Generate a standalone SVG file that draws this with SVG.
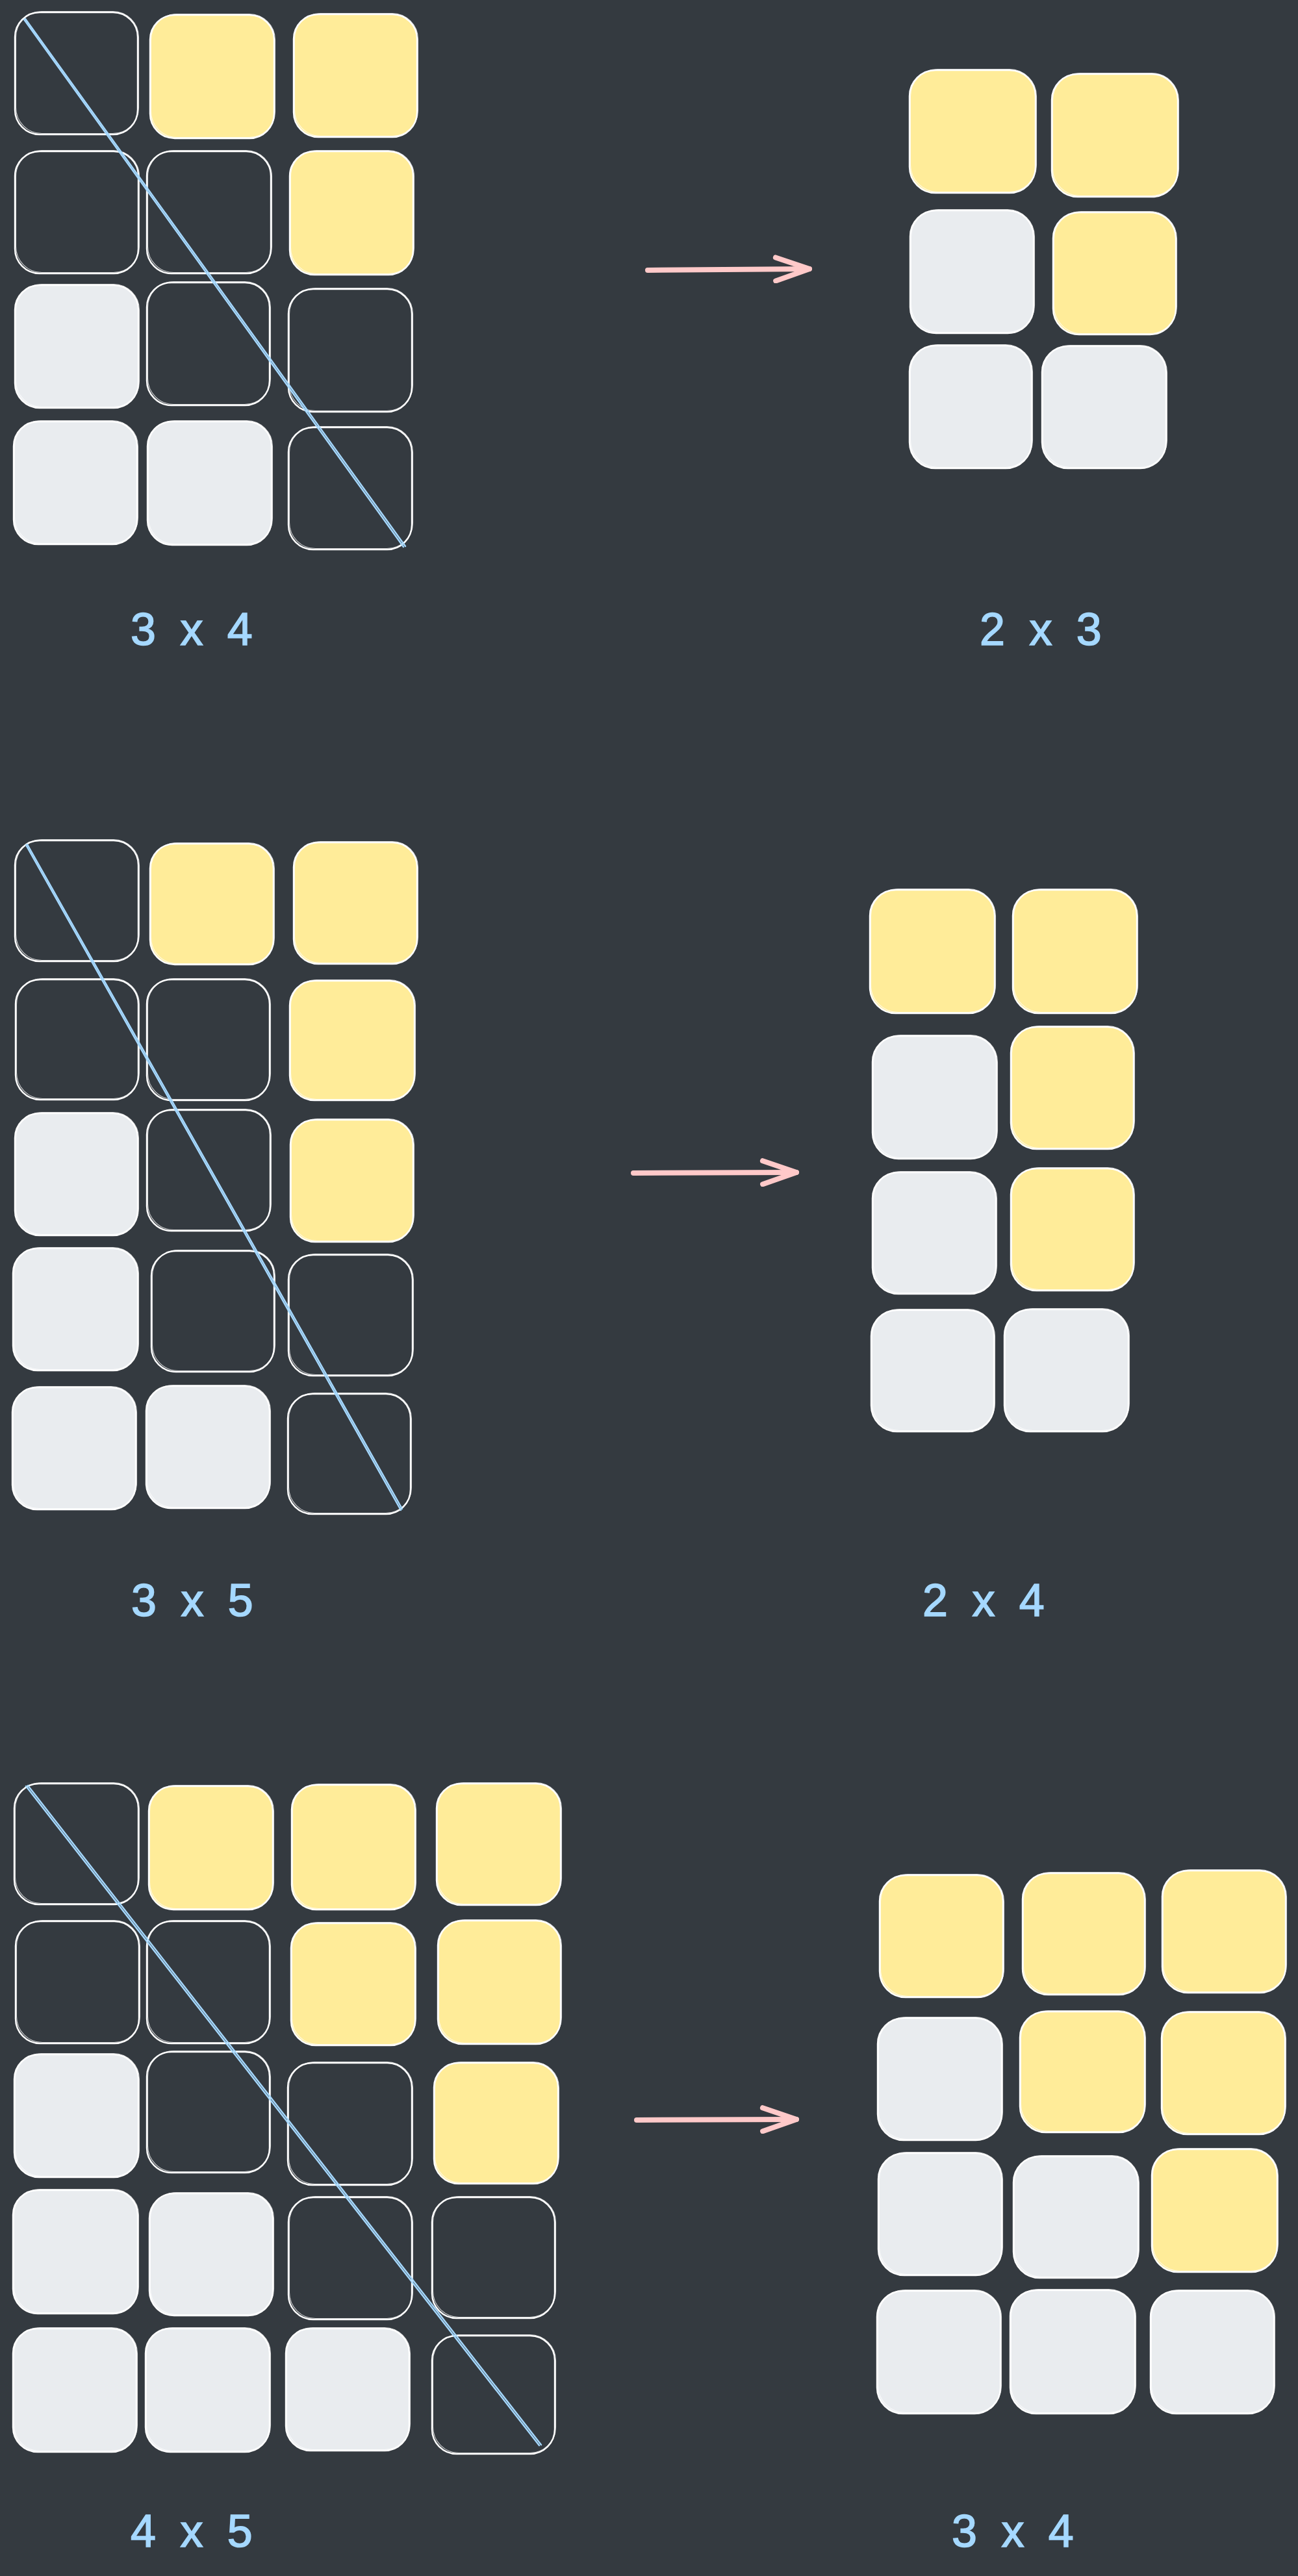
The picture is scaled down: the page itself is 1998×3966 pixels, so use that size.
<svg xmlns="http://www.w3.org/2000/svg" width="1998" height="3966" viewBox="0 0 1998 3966">
<style>
.c{stroke:#ffffff;stroke-width:2.4;}
.e{fill:none;}
.y{fill:#ffec99;}
.g{fill:#e9ecef;}
.o{fill:none;stroke:#ffffff;stroke-width:1.1;opacity:.75;transform:translate(1.5px,-1.5px);}
.d{stroke:#a5d8ff;stroke-width:2.4;fill:none;stroke-linecap:round;}
.a{stroke:#ffc9c9;stroke-width:8;fill:none;stroke-linecap:round;stroke-linejoin:round;}
.t{font-family:"Liberation Sans",Arial,sans-serif;font-size:70px;fill:#a5d8ff;stroke:#a5d8ff;stroke-width:1.6px;letter-spacing:9px;}
</style>
<defs>
<marker id="ah" viewBox="0 0 62 44" refX="57" refY="22" markerWidth="62" markerHeight="44" markerUnits="userSpaceOnUse" orient="auto">
<path d="M5,4 L57,22 L5,40" fill="none" stroke="#ffc9c9" stroke-width="8" stroke-linecap="round" stroke-linejoin="round"/>
</marker>
</defs>
<rect x="0" y="0" width="1998" height="3966" fill="#343a40"/>

<!-- Section 1 left grid 3x4 -->
<g id="s1-left">
<g id="s1l-r1c1"><rect class="c e" x="23" y="19" width="189" height="188" rx="38"/><rect class="o" x="23" y="19" width="189" height="188" rx="40"/></g>
<g id="s1l-r1c2"><rect class="c y" x="231" y="23" width="191" height="190" rx="38"/><rect class="o" x="231" y="23" width="191" height="190" rx="40"/></g>
<g id="s1l-r1c3"><rect class="c y" x="452" y="22" width="190" height="189" rx="38"/><rect class="o" x="452" y="22" width="190" height="189" rx="40"/></g>
<g id="s1l-r2c1"><rect class="c e" x="23" y="233" width="190" height="188" rx="38"/><rect class="o" x="23" y="233" width="190" height="188" rx="40"/></g>
<g id="s1l-r2c2"><rect class="c e" x="226" y="233" width="191" height="188" rx="38"/><rect class="o" x="226" y="233" width="191" height="188" rx="40"/></g>
<g id="s1l-r2c3"><rect class="c y" x="446" y="233" width="190" height="190" rx="38"/><rect class="o" x="446" y="233" width="190" height="190" rx="40"/></g>
<g id="s1l-r3c1"><rect class="c g" x="23" y="439" width="190" height="189" rx="38"/><rect class="o" x="23" y="439" width="190" height="189" rx="40"/></g>
<g id="s1l-r3c2"><rect class="c e" x="226" y="435" width="189" height="189" rx="38"/><rect class="o" x="226" y="435" width="189" height="189" rx="40"/></g>
<g id="s1l-r3c3"><rect class="c e" x="444" y="445" width="190" height="189" rx="38"/><rect class="o" x="444" y="445" width="190" height="189" rx="40"/></g>
<g id="s1l-r4c1"><rect class="c g" x="21" y="649" width="190" height="189" rx="38"/><rect class="o" x="21" y="649" width="190" height="189" rx="40"/></g>
<g id="s1l-r4c2"><rect class="c g" x="227" y="649" width="191" height="190" rx="38"/><rect class="o" x="227" y="649" width="191" height="190" rx="40"/></g>
<g id="s1l-r4c3"><rect class="c e" x="444" y="658" width="190" height="188" rx="38"/><rect class="o" x="444" y="658" width="190" height="188" rx="40"/></g>
</g>

<!-- Section 1 right grid 2x3 -->
<g id="s1-right">
<g id="s1r-r1c1"><rect class="c y" x="1400" y="108" width="194" height="189" rx="40"/><rect class="o" x="1400" y="108" width="194" height="189" rx="42"/></g>
<g id="s1r-r1c2"><rect class="c y" x="1619" y="114" width="194" height="189" rx="40"/><rect class="o" x="1619" y="114" width="194" height="189" rx="42"/></g>
<g id="s1r-r2c1"><rect class="c g" x="1401" y="324" width="190" height="189" rx="40"/><rect class="o" x="1401" y="324" width="190" height="189" rx="42"/></g>
<g id="s1r-r2c2"><rect class="c y" x="1621" y="327" width="189" height="188" rx="40"/><rect class="o" x="1621" y="327" width="189" height="188" rx="42"/></g>
<g id="s1r-r3c1"><rect class="c g" x="1400" y="532" width="188" height="189" rx="40"/><rect class="o" x="1400" y="532" width="188" height="189" rx="42"/></g>
<g id="s1r-r3c2"><rect class="c g" x="1604" y="533" width="191" height="188" rx="40"/><rect class="o" x="1604" y="533" width="191" height="188" rx="42"/></g>
</g>

<!-- Section 2 left grid 3x5 -->
<g id="s2-left">
<g id="s2l-r1c1"><rect class="c e" x="23" y="1294" width="190" height="186" rx="38"/><rect class="o" x="23" y="1294" width="190" height="186" rx="40"/></g>
<g id="s2l-r1c2"><rect class="c y" x="231" y="1299" width="190" height="186" rx="38"/><rect class="o" x="231" y="1299" width="190" height="186" rx="40"/></g>
<g id="s2l-r1c3"><rect class="c y" x="452" y="1297" width="190" height="187" rx="38"/><rect class="o" x="452" y="1297" width="190" height="187" rx="40"/></g>
<g id="s2l-r2c1"><rect class="c e" x="24" y="1508" width="189" height="185" rx="38"/><rect class="o" x="24" y="1508" width="189" height="185" rx="40"/></g>
<g id="s2l-r2c2"><rect class="c e" x="226" y="1508" width="189" height="186" rx="38"/><rect class="o" x="226" y="1508" width="189" height="186" rx="40"/></g>
<g id="s2l-r2c3"><rect class="c y" x="446" y="1510" width="192" height="184" rx="38"/><rect class="o" x="446" y="1510" width="192" height="184" rx="40"/></g>
<g id="s2l-r3c1"><rect class="c g" x="23" y="1714" width="189" height="188" rx="38"/><rect class="o" x="23" y="1714" width="189" height="188" rx="40"/></g>
<g id="s2l-r3c2"><rect class="c e" x="226" y="1709" width="190" height="186" rx="38"/><rect class="o" x="226" y="1709" width="190" height="186" rx="40"/></g>
<g id="s2l-r3c3"><rect class="c y" x="447" y="1724" width="189" height="188" rx="38"/><rect class="o" x="447" y="1724" width="189" height="188" rx="40"/></g>
<g id="s2l-r4c1"><rect class="c g" x="20" y="1922" width="192" height="188" rx="38"/><rect class="o" x="20" y="1922" width="192" height="188" rx="40"/></g>
<g id="s2l-r4c2"><rect class="c e" x="233" y="1926" width="189" height="186" rx="38"/><rect class="o" x="233" y="1926" width="189" height="186" rx="40"/></g>
<g id="s2l-r4c3"><rect class="c e" x="444" y="1932" width="191" height="186" rx="38"/><rect class="o" x="444" y="1932" width="191" height="186" rx="40"/></g>
<g id="s2l-r5c1"><rect class="c g" x="19" y="2136" width="190" height="188" rx="38"/><rect class="o" x="19" y="2136" width="190" height="188" rx="40"/></g>
<g id="s2l-r5c2"><rect class="c g" x="225" y="2134" width="190" height="188" rx="38"/><rect class="o" x="225" y="2134" width="190" height="188" rx="40"/></g>
<g id="s2l-r5c3"><rect class="c e" x="443" y="2146" width="189" height="185" rx="38"/><rect class="o" x="443" y="2146" width="189" height="185" rx="40"/></g>
</g>

<!-- Section 2 right grid 2x4 -->
<g id="s2-right">
<g id="s2r-r1c1"><rect class="c y" x="1339" y="1370" width="192" height="190" rx="40"/><rect class="o" x="1339" y="1370" width="192" height="190" rx="42"/></g>
<g id="s2r-r1c2"><rect class="c y" x="1559" y="1370" width="191" height="190" rx="40"/><rect class="o" x="1559" y="1370" width="191" height="190" rx="42"/></g>
<g id="s2r-r2c1"><rect class="c g" x="1343" y="1595" width="191" height="189" rx="40"/><rect class="o" x="1343" y="1595" width="191" height="189" rx="42"/></g>
<g id="s2r-r2c2"><rect class="c y" x="1556" y="1581" width="189" height="188" rx="40"/><rect class="o" x="1556" y="1581" width="189" height="188" rx="42"/></g>
<g id="s2r-r3c1"><rect class="c g" x="1343" y="1805" width="190" height="187" rx="40"/><rect class="o" x="1343" y="1805" width="190" height="187" rx="42"/></g>
<g id="s2r-r3c2"><rect class="c y" x="1556" y="1799" width="189" height="188" rx="40"/><rect class="o" x="1556" y="1799" width="189" height="188" rx="42"/></g>
<g id="s2r-r4c1"><rect class="c g" x="1341" y="2017" width="189" height="187" rx="40"/><rect class="o" x="1341" y="2017" width="189" height="187" rx="42"/></g>
<g id="s2r-r4c2"><rect class="c g" x="1546" y="2016" width="191" height="188" rx="40"/><rect class="o" x="1546" y="2016" width="191" height="188" rx="42"/></g>
</g>

<!-- Section 3 left grid 4x5 -->
<g id="s3-left">
<g id="s3l-r1c1"><rect class="c e" x="22" y="2746" width="191" height="186" rx="38"/><rect class="o" x="22" y="2746" width="191" height="186" rx="40"/></g>
<g id="s3l-r1c2"><rect class="c y" x="229" y="2750" width="191" height="190" rx="38"/><rect class="o" x="229" y="2750" width="191" height="190" rx="40"/></g>
<g id="s3l-r1c3"><rect class="c y" x="449" y="2748" width="190" height="192" rx="38"/><rect class="o" x="449" y="2748" width="190" height="192" rx="40"/></g>
<g id="s3l-r1c4"><rect class="c y" x="672" y="2746" width="191" height="187" rx="38"/><rect class="o" x="672" y="2746" width="191" height="187" rx="40"/></g>
<g id="s3l-r2c1"><rect class="c e" x="24" y="2958" width="190" height="188" rx="38"/><rect class="o" x="24" y="2958" width="190" height="188" rx="40"/></g>
<g id="s3l-r2c2"><rect class="c e" x="226" y="2958" width="189" height="188" rx="38"/><rect class="o" x="226" y="2958" width="189" height="188" rx="40"/></g>
<g id="s3l-r2c3"><rect class="c y" x="448" y="2961" width="191" height="188" rx="38"/><rect class="o" x="448" y="2961" width="191" height="188" rx="40"/></g>
<g id="s3l-r2c4"><rect class="c y" x="674" y="2957" width="189" height="190" rx="38"/><rect class="o" x="674" y="2957" width="189" height="190" rx="40"/></g>
<g id="s3l-r3c1"><rect class="c g" x="22" y="3163" width="191" height="189" rx="38"/><rect class="o" x="22" y="3163" width="191" height="189" rx="40"/></g>
<g id="s3l-r3c2"><rect class="c e" x="226" y="3159" width="189" height="186" rx="38"/><rect class="o" x="226" y="3159" width="189" height="186" rx="40"/></g>
<g id="s3l-r3c3"><rect class="c e" x="443" y="3176" width="191" height="188" rx="38"/><rect class="o" x="443" y="3176" width="191" height="188" rx="40"/></g>
<g id="s3l-r3c4"><rect class="c y" x="668" y="3176" width="191" height="186" rx="38"/><rect class="o" x="668" y="3176" width="191" height="186" rx="40"/></g>
<g id="s3l-r4c1"><rect class="c g" x="20" y="3372" width="192" height="190" rx="38"/><rect class="o" x="20" y="3372" width="192" height="190" rx="40"/></g>
<g id="s3l-r4c2"><rect class="c g" x="230" y="3377" width="190" height="188" rx="38"/><rect class="o" x="230" y="3377" width="190" height="188" rx="40"/></g>
<g id="s3l-r4c3"><rect class="c e" x="444" y="3383" width="190" height="188" rx="38"/><rect class="o" x="444" y="3383" width="190" height="188" rx="40"/></g>
<g id="s3l-r4c4"><rect class="c e" x="665" y="3383" width="189" height="186" rx="38"/><rect class="o" x="665" y="3383" width="189" height="186" rx="40"/></g>
<g id="s3l-r5c1"><rect class="c g" x="20" y="3585" width="190" height="190" rx="38"/><rect class="o" x="20" y="3585" width="190" height="190" rx="40"/></g>
<g id="s3l-r5c2"><rect class="c g" x="224" y="3585" width="191" height="190" rx="38"/><rect class="o" x="224" y="3585" width="191" height="190" rx="40"/></g>
<g id="s3l-r5c3"><rect class="c g" x="440" y="3585" width="190" height="188" rx="38"/><rect class="o" x="440" y="3585" width="190" height="188" rx="40"/></g>
<g id="s3l-r5c4"><rect class="c e" x="665" y="3596" width="189" height="182" rx="38"/><rect class="o" x="665" y="3596" width="189" height="182" rx="40"/></g>
</g>

<!-- Section 3 right grid 3x4 -->
<g id="s3-right">
<g id="s3r-r1c1"><rect class="c y" x="1354" y="2887" width="190" height="188" rx="40"/><rect class="o" x="1354" y="2887" width="190" height="188" rx="42"/></g>
<g id="s3r-r1c2"><rect class="c y" x="1574" y="2884" width="188" height="187" rx="40"/><rect class="o" x="1574" y="2884" width="188" height="187" rx="42"/></g>
<g id="s3r-r1c3"><rect class="c y" x="1789" y="2880" width="190" height="188" rx="40"/><rect class="o" x="1789" y="2880" width="190" height="188" rx="42"/></g>
<g id="s3r-r2c1"><rect class="c g" x="1351" y="3107" width="191" height="188" rx="40"/><rect class="o" x="1351" y="3107" width="191" height="188" rx="42"/></g>
<g id="s3r-r2c2"><rect class="c y" x="1570" y="3097" width="192" height="186" rx="40"/><rect class="o" x="1570" y="3097" width="192" height="186" rx="42"/></g>
<g id="s3r-r2c3"><rect class="c y" x="1788" y="3098" width="190" height="188" rx="40"/><rect class="o" x="1788" y="3098" width="190" height="188" rx="42"/></g>
<g id="s3r-r3c1"><rect class="c g" x="1352" y="3315" width="190" height="188" rx="40"/><rect class="o" x="1352" y="3315" width="190" height="188" rx="42"/></g>
<g id="s3r-r3c2"><rect class="c g" x="1560" y="3320" width="192" height="187" rx="40"/><rect class="o" x="1560" y="3320" width="192" height="187" rx="42"/></g>
<g id="s3r-r3c3"><rect class="c y" x="1773" y="3309" width="193" height="189" rx="40"/><rect class="o" x="1773" y="3309" width="193" height="189" rx="42"/></g>
<g id="s3r-r4c1"><rect class="c g" x="1350" y="3527" width="190" height="189" rx="40"/><rect class="o" x="1350" y="3527" width="190" height="189" rx="42"/></g>
<g id="s3r-r4c2"><rect class="c g" x="1555" y="3526" width="192" height="190" rx="40"/><rect class="o" x="1555" y="3526" width="192" height="190" rx="42"/></g>
<g id="s3r-r4c3"><rect class="c g" x="1771" y="3527" width="190" height="189" rx="40"/><rect class="o" x="1771" y="3527" width="190" height="189" rx="42"/></g>
</g>

<!-- Diagonal strokes -->
<g id="diagonals">
<path class="d" d="M37,30 L621,842"/>
<path class="d" d="M39,29 L624,841" stroke-width="1.4"/>
<path class="d" d="M40,1301 L617,2325"/>
<path class="d" d="M42,1300 L619,2323" stroke-width="1.2"/>
<path class="d" d="M40,2750 L830,3765"/>
<path class="d" d="M43,2749 L833,3764" stroke-width="1.4"/>
</g>

<!-- Connectors -->
<g id="connectors">
<path class="a" d="M997,416 L1246,414" marker-end="url(#ah)"/>
<path class="a" d="M975,1806 L1226,1805" marker-end="url(#ah)"/>
<path class="a" d="M980,3264 L1226,3263" marker-end="url(#ah)"/>
</g>

<!-- Labels -->
<g id="labels">
<text class="t" x="201" y="993">3 x 4</text>
<text class="t" x="1508" y="993">2 x 3</text>
<text class="t" x="202" y="2488">3 x 5</text>
<text class="t" x="1420" y="2488">2 x 4</text>
<text class="t" x="201" y="3921">4 x 5</text>
<text class="t" x="1465" y="3921">3 x 4</text>
</g>
</svg>
